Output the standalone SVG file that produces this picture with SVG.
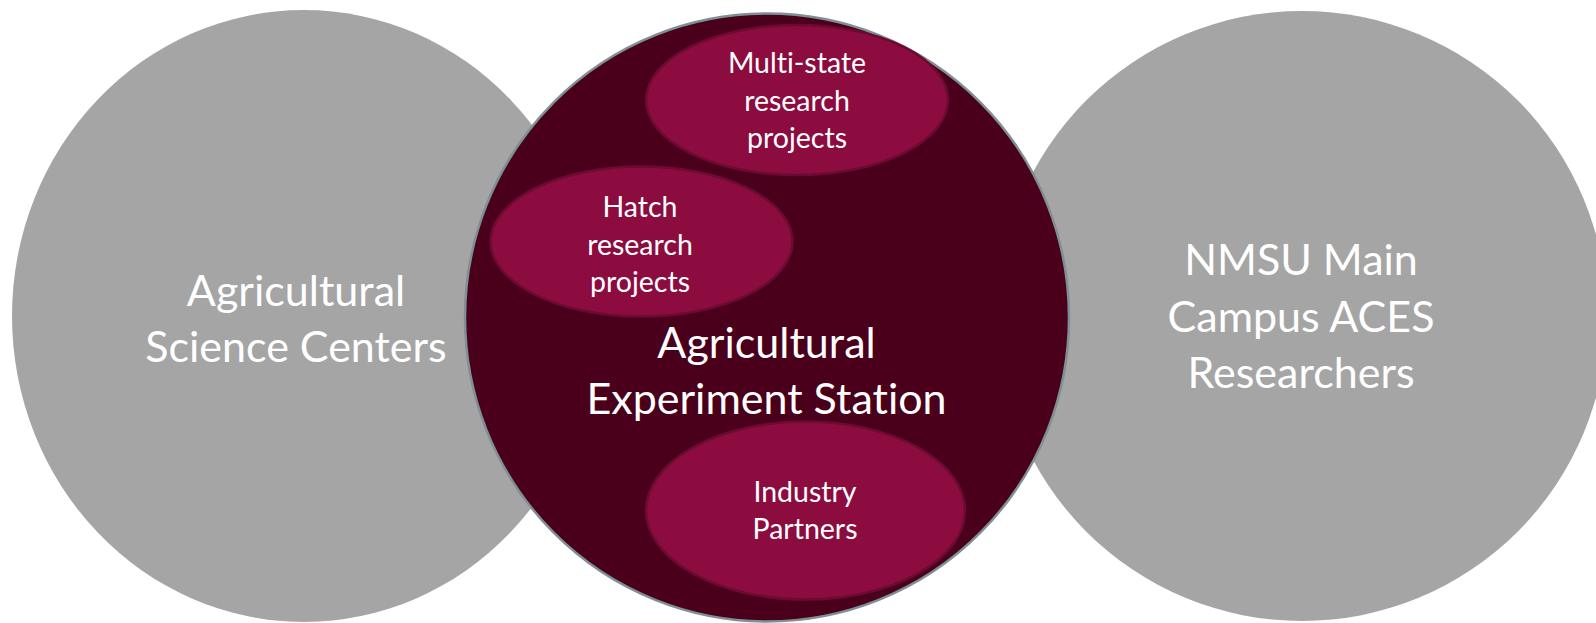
<svg xmlns="http://www.w3.org/2000/svg" width="1596" height="623" viewBox="0 0 1596 623">
<style>
.gray{fill:#A5A5A5}
.core{fill:#4A001B;stroke:#7E8F96;stroke-width:2.5}
.sub{fill:#8C0C40;stroke:#6C0A33;stroke-width:2.5}
text{font-family:Lato,"Open Sans","Liberation Sans",sans-serif;fill:#FFFFFF;text-anchor:middle;font-variant-ligatures:none;font-feature-settings:"liga" 0}
.big{font-size:43px}
.small{font-size:28.5px}
</style>
<rect width="1596" height="623" fill="#FFFFFF"/>
<g id="node-asc">
<ellipse class="gray" cx="304" cy="316" rx="292" ry="306"/>
<text class="big" x="296" y="306">Agricultural</text>
<text class="big" x="296" y="362">Science Centers</text>
</g>
<g id="node-nmsu">
<circle class="gray" cx="1302" cy="316" r="305"/>
<text class="big" x="1301" y="275">NMSU Main</text>
<text class="big" x="1301" y="331.5">Campus ACES</text>
<text class="big" x="1301" y="388">Researchers</text>
</g>
<g id="node-aes">
<ellipse class="core" cx="767" cy="317.5" rx="302" ry="304"/>
<text class="big" x="766.5" y="358">Agricultural</text>
<text class="big" x="766.5" y="414">Experiment Station</text>
</g>
<g id="node-multistate">
<ellipse class="sub" cx="797" cy="100" rx="151" ry="75"/>
<text class="small" x="797" y="73">Multi-state</text>
<text class="small" x="797" y="110.5">research</text>
<text class="small" x="797" y="148">projects</text>
</g>
<g id="node-hatch">
<ellipse class="sub" cx="641.5" cy="241.5" rx="151" ry="75"/>
<text class="small" x="640" y="217">Hatch</text>
<text class="small" x="640" y="254.5">research</text>
<text class="small" x="640" y="292">projects</text>
</g>
<g id="node-industry">
<ellipse class="sub" cx="805.5" cy="510.5" rx="159.5" ry="89"/>
<text class="small" x="805" y="501.5">Industry</text>
<text class="small" x="805" y="539">Partners</text>
</g>
<g id="connectors"/>
</svg>
